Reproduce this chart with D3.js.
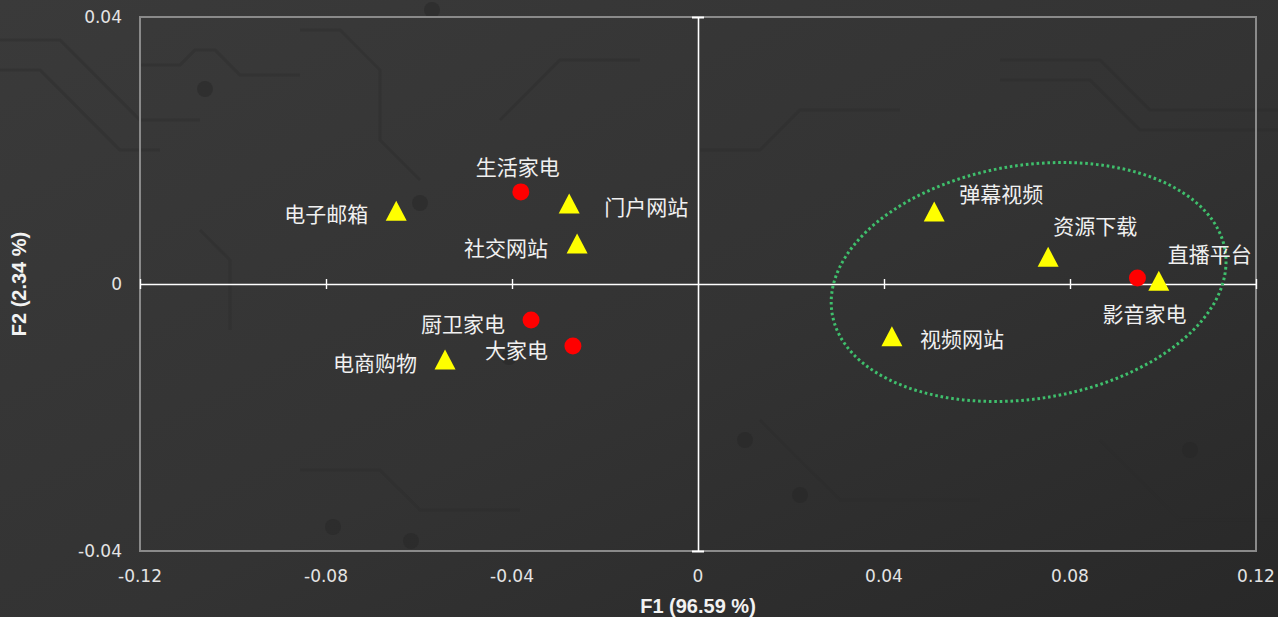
<!DOCTYPE html>
<html>
<head>
<meta charset="utf-8">
<script src="https://cdn.jsdelivr.net/npm/d3@7"></script>
<style>
  html, body { margin: 0; padding: 0; background: #303030; }
  svg { display: block; }
</style>
</head>
<body>
<svg id="chart" width="1278" height="617"></svg>
<script>
// Correspondence analysis map: F1 vs F2 scores
const names   = ["生活家电", "门户网站", "电子邮箱", "社交网站", "厨卫家电", "大家电",
                 "电商购物", "弹幕视频", "资源下载", "直播平台", "影音家电", "视频网站"];
const kinds   = ["row", "col", "col", "col", "row", "row",
                 "col", "col", "col", "col", "row", "col"];   // row = 家电 (circle), col = 网站 (triangle)
const f1      = [-0.0381, -0.0277, -0.0649, -0.0260, -0.0359, -0.0269,
                 -0.0544, 0.0508, 0.0753, 0.0991, 0.0945, 0.0417];
const f2      = [0.0138, 0.0120, 0.0109, 0.0060, -0.0054, -0.0093,
                 -0.0114, 0.0108, 0.0040, 0.0004, 0.0009, -0.0079];

const xTicks  = [-0.12, -0.08, -0.04, 0, 0.04, 0.08, 0.12];
const yTicks  = [-0.04, 0, 0.04];
const xTickLabels = ["-0.12", "-0.08", "-0.04", "0", "0.04", "0.08", "0.12"];
const yTickLabels = ["-0.04", "0", "0.04"];
const xTitle = "F1 (96.59 %)";
const yTitle = "F2 (2.34 %)";

// Cluster ellipse (centre and semi-axes in data units)
const clusterCentre = [0.0711, 0.0003];
const clusterRadii  = [0.0428, 0.0175];

// Label placement relative to each marker (pixels)
const labelOffsets = {
  "生活家电": { dx: -3,  dy: -26, anchor: "middle" },
  "门户网站": { dx: 35,  dy: 2,   anchor: "start" },
  "电子邮箱": { dx: -28, dy: 2,   anchor: "end" },
  "社交网站": { dx: -29, dy: 3,   anchor: "end" },
  "厨卫家电": { dx: -26, dy: 3,   anchor: "end" },
  "大家电":   { dx: -25, dy: 3,   anchor: "end" },
  "电商购物": { dx: -28, dy: 2,   anchor: "end" },
  "弹幕视频": { dx: 25,  dy: -19, anchor: "start" },
  "资源下载": { dx: 5,   dy: -32, anchor: "start" },
  "直播平台": { dx: 9,   dy: -28, anchor: "start" },
  "影音家电": { dx: -35, dy: 35,  anchor: "start" },
  "视频网站": { dx: 28,  dy: 1,   anchor: "start" }
};

const W = 1278, H = 617;
const margin = { left: 140, right: 22, top: 17, bottom: 66 };
const svg = d3.select("#chart");

// ---- background ----
const defs = svg.append("defs");
const bg = defs.append("linearGradient").attr("id", "bg")
  .attr("x1", "0").attr("y1", "0").attr("x2", "1").attr("y2", "1");
bg.append("stop").attr("offset", "0").attr("stop-color", "#3a3a3a");
bg.append("stop").attr("offset", "0.55").attr("stop-color", "#333333");
bg.append("stop").attr("offset", "1").attr("stop-color", "#282828");
svg.append("rect").attr("width", W).attr("height", H).attr("fill", "url(#bg)");

// faint circuit traces in the backdrop
const deco = svg.append("g").attr("fill", "none").attr("stroke", "#2a2a2a")
  .attr("stroke-width", 3).attr("opacity", 0.35);
const traces = [
  "M0,40 L60,40 L140,120 L200,120",
  "M0,70 L40,70 L120,150 L160,150",
  "M140,65 L180,65 L195,50 L215,50 L240,75 L300,75",
  "M300,30 L340,30 L380,70 L380,140 L420,180",
  "M200,230 L230,260 L230,330",
  "M700,150 L760,150 L800,110 L900,110",
  "M1000,60 L1100,60 L1150,110 L1278,110",
  "M1000,80 L1090,80 L1140,130 L1278,130",
  "M300,470 L380,470 L420,510 L520,510",
  "M760,420 L840,500 L980,500",
  "M1100,440 L1180,520 L1278,520",
  "M500,120 L560,60 L640,60"
];
deco.selectAll("path").data(traces).join("path").attr("d", d => d);
const pads = [[205, 89], [420, 203], [333, 527], [411, 541], [432, 10], [509, 357], [1190, 450], [745, 440], [800, 495]];
svg.append("g").selectAll("circle").data(pads).join("circle")
  .attr("cx", d => d[0]).attr("cy", d => d[1]).attr("r", 8)
  .attr("fill", "#252525").attr("opacity", 0.45);

// ---- scales ----
const x = d3.scaleLinear().domain([-0.12, 0.12]).range([margin.left, W - margin.right]);
const y = d3.scaleLinear().domain([-0.04, 0.04]).range([H - margin.bottom, margin.top]);

const x0 = x(0), y0 = y(0);

// plot frame
svg.append("rect")
  .attr("x", x(-0.12)).attr("y", y(0.04))
  .attr("width", x(0.12) - x(-0.12)).attr("height", y(-0.04) - y(0.04))
  .attr("fill", "none").attr("stroke", "#8a8a8a").attr("stroke-width", 2);

// zero axes with crossing ticks
const xAxis = d3.axisBottom(x).tickValues(xTicks).tickSize(0).tickFormat("");
const gx = svg.append("g").attr("transform", `translate(0,${y0})`).call(xAxis);
gx.select(".domain").attr("stroke", "#ffffff").attr("stroke-width", 1.6);
gx.selectAll(".tick line").remove();
gx.selectAll(".tick").filter(d => d !== 0).append("line")
  .attr("y1", -5).attr("y2", 5).attr("stroke", "#ffffff").attr("stroke-width", 1.4);

const yAxis = d3.axisLeft(y).tickValues(yTicks).tickSize(0).tickFormat("");
const gy = svg.append("g").attr("transform", `translate(${x0},0)`).call(yAxis);
gy.select(".domain").attr("stroke", "#ffffff").attr("stroke-width", 1.6);
gy.selectAll(".tick line").remove();
gy.selectAll(".tick").filter(d => d !== 0).append("line")
  .attr("x1", -6).attr("x2", 6).attr("stroke", "#ffffff").attr("stroke-width", 2);

// tick labels along the frame
const tickFont = "'DejaVu Sans', 'Open Sans', sans-serif";
svg.append("g").selectAll("text").data(xTicks).join("text")
  .attr("x", d => x(d)).attr("y", y(-0.04) + 31)
  .attr("text-anchor", "middle")
  .attr("font-family", tickFont).attr("font-size", 17).attr("fill", "#e4e4e4")
  .text((d, i) => xTickLabels[i]);
svg.append("g").selectAll("text").data(yTicks).join("text")
  .attr("x", x(-0.12) - 18).attr("y", d => y(d) + 6)
  .attr("text-anchor", "end")
  .attr("font-family", tickFont).attr("font-size", 17).attr("fill", "#e4e4e4")
  .text((d, i) => yTickLabels[i]);

// axis titles
svg.append("text")
  .attr("x", (x(-0.12) + x(0.12)) / 2).attr("y", 613)
  .attr("text-anchor", "middle")
  .attr("font-family", "'Liberation Sans', Arial, sans-serif")
  .attr("font-weight", "bold").attr("font-size", 20).attr("fill", "#f2f2f2")
  .text(xTitle);
svg.append("text")
  .attr("transform", `translate(26,${(y(-0.04) + y(0.04)) / 2}) rotate(-90)`)
  .attr("text-anchor", "middle")
  .attr("font-family", "'Liberation Sans', Arial, sans-serif")
  .attr("font-weight", "bold").attr("font-size", 20).attr("fill", "#f2f2f2")
  .text(yTitle);

// cluster ellipse
const ecx = x(clusterCentre[0]), ecy = y(clusterCentre[1]);
svg.append("ellipse")
  .attr("cx", ecx).attr("cy", ecy)
  .attr("rx", x(clusterRadii[0]) - x(0))
  .attr("ry", y(0) - y(clusterRadii[1]))
  .attr("transform", `rotate(-9,${ecx},${ecy})`)
  .attr("fill", "none").attr("stroke", "#3fbf6c")
  .attr("stroke-width", 3).attr("stroke-dasharray", "2.6 2.8");

// points
const pts = names.map((n, i) => ({ name: n, kind: kinds[i], f1: f1[i], f2: f2[i] }));
const gp = svg.append("g");
gp.selectAll("circle").data(pts.filter(d => d.kind === "row")).join("circle")
  .attr("cx", d => x(d.f1)).attr("cy", d => y(d.f2)).attr("r", 8.5)
  .attr("fill", "#ff0000");
const tri = "M0,-10.5 L10.5,9.5 L-10.5,9.5 Z";
gp.selectAll("path").data(pts.filter(d => d.kind === "col")).join("path")
  .attr("transform", d => `translate(${x(d.f1)},${y(d.f2)})`)
  .attr("d", tri).attr("fill", "#ffff00");

// labels
svg.append("g").selectAll("text").data(pts).join("text")
  .attr("x", d => x(d.f1) + labelOffsets[d.name].dx)
  .attr("y", d => y(d.f2) + labelOffsets[d.name].dy)
  .attr("text-anchor", d => labelOffsets[d.name].anchor)
  .attr("dominant-baseline", "central")
  .attr("font-family", "'Noto Sans CJK SC', sans-serif")
  .attr("font-size", 21).attr("fill", "#f0f0f0")
  .text(d => d.name);
</script>
</body>
</html>
